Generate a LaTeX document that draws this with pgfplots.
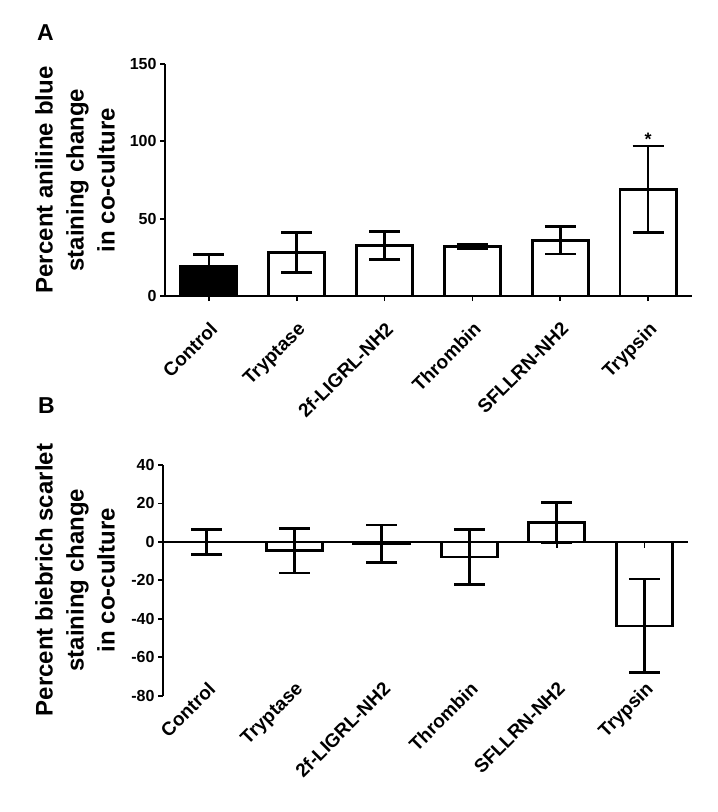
\documentclass[border=0pt]{standalone}
\usepackage{fontspec}
\setmainfont{Liberation Sans}
\usepackage{pgfplots}
\pgfplotsset{compat=1.18}
\begin{document}
\begin{tikzpicture}
\useasboundingbox (0,0) rectangle (718pt,-812pt);
\pgfplotsset{
 common/.style={
  scale only axis,
  xmin=-0.5, xmax=5.5,
  xtick={0,1,2,3,4,5},
  xticklabels={Control,Tryptase,2f-LIGRL-NH2,Thrombin,SFLLRN-NH2,Trypsin},
  axis x line*=bottom, axis y line*=left,
  axis line style={line width=2.2pt, -},
  tick align=outside,
  major tick length=5pt,
  tick style={line width=1.8pt, black},
  /pgf/number format/assume math mode=true,
  yticklabel style={font=\fontsize{16}{16}\selectfont\bfseries},
  xticklabel style={font=\fontsize{19}{19}\selectfont\bfseries, rotate=45, anchor=north east},
 },
 barsty/.style={ybar, bar width=0.64, bar shift=0pt, line width=2.8pt,
   error bars/.cd, y dir=both, y explicit,
   error bar style={line width=2.8pt, black},
   error mark options={rotate=90, line width=2.8pt, black, mark size=15.5pt}},
}
% Panel A
\begin{axis}[common, at={(165pt,-296pt)}, anchor=south west, width=527pt, height=232pt,
  ymin=0, ymax=150, ytick={0,50,100,150}, xticklabel shift=15pt]
\addplot[draw=black, fill=black, barsty] coordinates {(0,19) +- (0,8)};
\addplot[draw=black, fill=white, barsty] coordinates {(1,28) +- (0,13) (2,32.5) +- (0,9) (3,32) +- (0,1.3) (4,36) +- (0,8.8) (5,69) +- (0,28)};
\node[font=\fontsize{18}{18}\selectfont\bfseries] at (axis cs:5,101) {*};
\end{axis}
% Panel B
\begin{axis}[common, at={(163pt,-695.7pt)}, anchor=south west, width=525pt, height=230.7pt,
  ymin=-80, ymax=40, ytick={-80,-60,-40,-20,0,20,40},
  x axis line style={draw=none}, xtick style={draw=none},
  xticklabel shift=-25pt]
\addplot[draw=none, fill=none, barsty] coordinates {(0,0) +- (0,6.4)};
\addplot[draw=black, fill=white, barsty] coordinates {(1,-4.6) +- (0,11.6) (2,-1) +- (0,9.8) (3,-7.8) +- (0,14.3) (4,10) +- (0,10.6) (5,-43.7) +- (0,24.4)};
\addplot[line width=1.5pt, black] coordinates {(-0.5,0) (5.5,0)};
\addplot[only marks, mark=|, mark size=3pt, mark options={line width=1.5pt, black}] coordinates {(0,-1.5) (1,-1.5) (2,-1.5) (3,-1.5) (4,-1.5) (5,-1.5)};
\end{axis}
\node[rotate=90, anchor=north, align=center, inner sep=0pt, font=\fontsize{24}{31}\selectfont\bfseries] at (35pt,-180pt) {Percent aniline blue\\staining change\\in co-culture};
\node[rotate=90, anchor=north, align=center, inner sep=0pt, font=\fontsize{24}{31}\selectfont\bfseries] at (35pt,-580pt) {Percent biebrich scarlet\\staining change\\in co-culture};
\node[anchor=base west, inner sep=0pt, font=\fontsize{23}{23}\selectfont\bfseries] at (37pt,-40pt) {A};
\node[anchor=base west, inner sep=0pt, font=\fontsize{23}{23}\selectfont\bfseries] at (38pt,-413pt) {B};
\end{tikzpicture}
\end{document}
